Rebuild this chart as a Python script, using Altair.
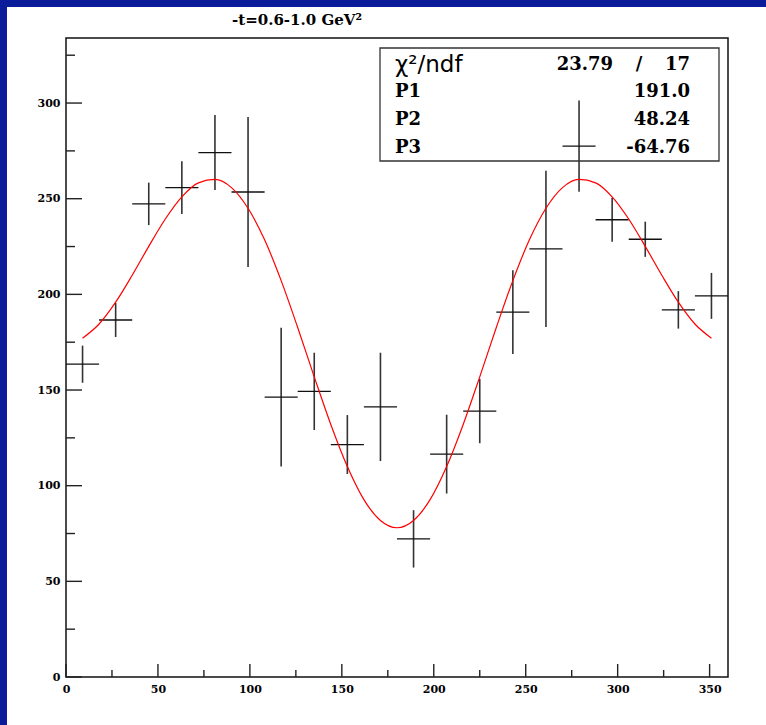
import altair as alt
import pandas as pd

# ---------------- data ----------------
BIN_CENTERS = [9, 27, 45, 63, 81, 99, 117, 135, 153, 171,
               189, 207, 225, 243, 261, 279, 297, 315, 333, 351]
COUNTS = [163.5, 186.6, 247.3, 255.8, 274.1, 253.5, 146.3, 149.3, 121.5, 141.2,
          72.2, 116.5, 139.0, 190.7, 223.8, 277.5, 239.0, 228.8, 191.9, 199.2]
ERRORS = [9.7, 8.9, 11.1, 13.8, 19.6, 39.2, 36.3, 20.2, 15.4, 28.3,
          15.0, 20.6, 16.8, 21.9, 40.8, 23.8, 11.5, 9.2, 9.8, 12.0]
BIN_HALF_WIDTH = 9

# red fit curve
FIT_X = [9, 18, 27, 36, 45, 54, 63, 72, 81, 90, 99, 108, 117, 126, 135, 144, 153, 162, 171, 180,
         189, 198, 207, 216, 225, 234, 243, 252, 261, 270, 279, 288, 297, 306, 315, 324, 333, 342, 351]
FIT_Y = [177.1, 184.5, 195.9, 210.0, 225.1, 239.4, 251.0, 258.3, 260.1, 255.8, 245.0, 228.5, 207.2,
         182.7, 156.9, 132.0, 110.0, 92.7, 81.8, 78.0, 81.8, 92.7, 110.0, 132.0, 156.9, 182.7, 207.2,
         228.5, 245.0, 255.8, 260.1, 258.3, 251.0, 239.4, 225.1, 210.0, 195.9, 184.5, 177.1]

X_MAJOR = [0, 50, 100, 150, 200, 250, 300, 350]
X_MINOR = [25, 75, 125, 175, 225, 275, 325]
Y_MAJOR = [0, 50, 100, 150, 200, 250, 300]
Y_MINOR = [25, 75, 125, 175, 225, 275, 325]

TITLE = "-t=0.6-1.0 GeV\u00b2"
CHI2_LABEL = "\u03c7\u00b2/ndf"
CHI2_VALUE = "23.79"
NDF_VALUE = "17"
PAR_NAMES = ["P1", "P2", "P3"]
PAR_VALUES = ["191.0", "48.24", "-64.76"]

# ---------------- layout ----------------
W, H = 662, 639
PAD_L, PAD_T, PAD_R, PAD_B = 66, 38, 38, 48
BLUE = "#0A1C9A"
SERIF = "DejaVu Serif"
SANS = "DejaVu Sans"
ROW_Y = [54, 82, 110]

xs = alt.Scale(domain=[0, 360], nice=False, zero=False)
ys = alt.Scale(domain=[0, 334], nice=False, zero=False)
x_axis = alt.Axis(values=X_MAJOR, ticks=False, tickSize=0, domain=False, grid=False, title=None,
                  labelFont=SERIF, labelFontWeight="bold", labelFontSize=11, labelColor="black",
                  labelPadding=6, labelFlush=False, labelOverlap=False)
y_axis = alt.Axis(values=Y_MAJOR, ticks=False, tickSize=0, domain=False, grid=False, title=None,
                  labelFont=SERIF, labelFontWeight="bold", labelFontSize=11, labelColor="black",
                  labelPadding=6, labelFlush=False, labelOverlap=False)

pts = pd.DataFrame({"x": BIN_CENTERS, "y": COUNTS, "e": ERRORS})
pts["xlo"] = pts["x"] - BIN_HALF_WIDTH
pts["xhi"] = pts["x"] + BIN_HALF_WIDTH
pts["ylo"] = pts["y"] - pts["e"]
pts["yhi"] = pts["y"] + pts["e"]

fit = pd.DataFrame({"x": FIT_X, "y": FIT_Y})
one = pd.DataFrame({"k": [0]})

xt_major = pd.DataFrame({"t": X_MAJOR})
xt_minor = pd.DataFrame({"t": X_MINOR})
yt_major = pd.DataFrame({"t": Y_MAJOR})
yt_minor = pd.DataFrame({"t": Y_MINOR})

# blue frame strips (outside plot area)
left_strip = alt.Chart(one).mark_rect(color=BLUE).encode(
    x=alt.value(-PAD_L), x2=alt.value(-PAD_L + 7),
    y=alt.value(-PAD_T), y2=alt.value(H + PAD_B))
top_strip = alt.Chart(one).mark_rect(color=BLUE).encode(
    x=alt.value(-PAD_L), x2=alt.value(W + PAD_R),
    y=alt.value(-PAD_T), y2=alt.value(-PAD_T + 7))

stat_box = alt.Chart(one).mark_rect(fill="white", stroke="#333", strokeWidth=1.3).encode(
    x=alt.value(314), x2=alt.value(653), y=alt.value(10), y2=alt.value(123))

tick_style = dict(color="#222", strokeWidth=1.4)
xmaj = alt.Chart(xt_major).mark_rule(**tick_style).encode(
    x=alt.X("t:Q", scale=xs, axis=x_axis), y=alt.value(H), y2=alt.value(H - 13))
xmin = alt.Chart(xt_minor).mark_rule(**tick_style).encode(
    x=alt.X("t:Q", scale=xs, axis=x_axis), y=alt.value(H), y2=alt.value(H - 7))
ymaj = alt.Chart(yt_major).mark_rule(**tick_style).encode(
    y=alt.Y("t:Q", scale=ys, axis=y_axis), x=alt.value(0), x2=alt.value(16))
ymin = alt.Chart(yt_minor).mark_rule(**tick_style).encode(
    y=alt.Y("t:Q", scale=ys, axis=y_axis), x=alt.value(0), x2=alt.value(9))

vbars = alt.Chart(pts).mark_rule(color="#333", strokeWidth=1.6).encode(
    x=alt.X("x:Q", scale=xs, axis=x_axis),
    y=alt.Y("ylo:Q", scale=ys, axis=y_axis), y2="yhi:Q")
hbars = alt.Chart(pts).mark_rule(color="#111", strokeWidth=1.3).encode(
    x=alt.X("xlo:Q", scale=xs, axis=x_axis), x2="xhi:Q",
    y=alt.Y("y:Q", scale=ys, axis=y_axis))

curve = alt.Chart(fit).mark_line(color="#ff0000", strokeWidth=1.2, interpolate="monotone").encode(
    x=alt.X("x:Q", scale=xs, axis=x_axis), y=alt.Y("y:Q", scale=ys, axis=y_axis))


def label(text, x, y, align, font=SERIF, size=18, weight="bold"):
    return alt.Chart(one).mark_text(text=text, font=font, fontWeight=weight, fontSize=size,
                                    align=align, baseline="middle", color="black").encode(
        x=alt.value(x), y=alt.value(y))


texts = [
    label(TITLE, 231, -18, "center", size=15),
    label(CHI2_LABEL, 329, 27, "left", font=SANS, size=23, weight="normal"),
    label(CHI2_VALUE, 547, 27, "right"),
    label("/", 573, 27, "center"),
    label(NDF_VALUE, 624, 27, "right"),
]
for name, val, ry in zip(PAR_NAMES, PAR_VALUES, ROW_Y):
    texts.append(label(name, 329, ry, "left"))
    texts.append(label(val, 624, ry, "right"))

chart = alt.layer(
    left_strip, top_strip, stat_box, xmaj, xmin, ymaj, ymin, vbars, hbars, curve, *texts
).properties(
    width=W, height=H,
    padding={"left": PAD_L, "top": PAD_T, "right": PAD_R, "bottom": PAD_B},
    autosize=alt.AutoSizeParams(type="none"),
    background="white",
).configure_view(stroke="#111", strokeWidth=1.5)

chart.save("out.html", embed_options={"renderer": "svg", "actions": False})
